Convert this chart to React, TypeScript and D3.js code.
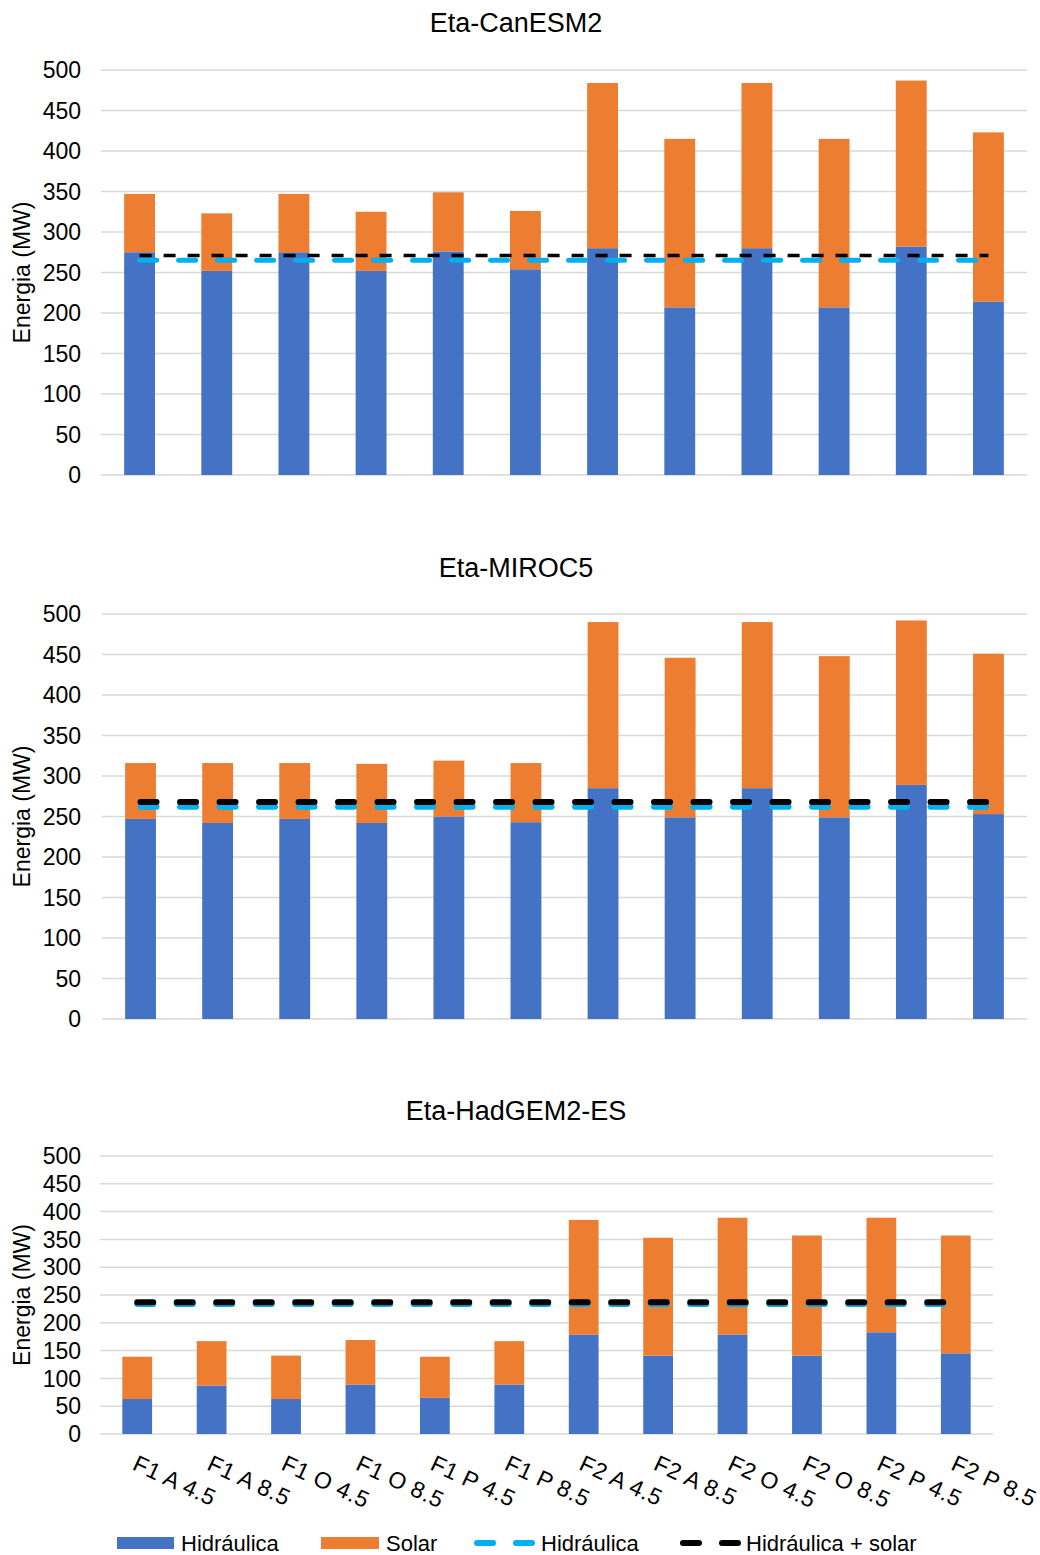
import React from "react";
import * as d3 from "d3";

const categories = [
  "F1 A 4.5", "F1 A 8.5", "F1 O 4.5", "F1 O 8.5", "F1 P 4.5", "F1 P 8.5",
  "F2 A 4.5", "F2 A 8.5", "F2 O 4.5", "F2 O 8.5", "F2 P 4.5", "F2 P 8.5",
];
const yTicks = [0, 50, 100, 150, 200, 250, 300, 350, 400, 450, 500];

// Eta-CanESM2
const canHidraulica = [275, 252, 275, 252, 276, 254, 280, 207, 280, 207, 282, 214];
const canSolar = [72, 71, 72, 73, 73, 72, 204, 208, 204, 208, 205, 209];
const canRefHidraulica = 265;
const canRefTotal = 271;

// Eta-MIROC5
const mirHidraulica = [247, 242, 247, 242, 250, 243, 285, 249, 285, 249, 289, 253];
const mirSolar = [69, 74, 69, 73, 69, 73, 205, 197, 205, 199, 203, 198];
const mirRefHidraulica = 262;
const mirRefTotal = 268;

// Eta-HadGEM2-ES
const hadHidraulica = [63, 87, 63, 89, 65, 89, 179, 141, 179, 141, 183, 145];
const hadSolar = [76, 80, 78, 80, 74, 78, 206, 212, 210, 216, 206, 212];
const hadRefHidraulica = 234;
const hadRefTotal = 237;

const titles = ["Eta-CanESM2", "Eta-MIROC5", "Eta-HadGEM2-ES"];
const yLabel = "Energia (MW)";
const legendLabels = ["Hidráulica", "Solar", "Hidráulica", "Hidráulica + solar"];

const BLUE = "#4472C4";
const ORANGE = "#ED7D31";
const CYAN = "#00B0F0";
const FONT = "'Liberation Sans', Arial, Helvetica, sans-serif";

type PanelProps = {
  title: string;
  hid: number[];
  sol: number[];
  refH: number;
  refT: number;
  x0: number;
  x1: number;
  yTop: number;
  yBot: number;
  titleY: number;
  thinBlack: boolean;
  showX: boolean;
};

function Panel(p: PanelProps) {
  const x = d3.scaleBand<string>().domain(categories).range([p.x0, p.x1]).paddingInner(0.6).paddingOuter(0.3);
  const y = d3.scaleLinear().domain([0, 500]).range([p.yBot, p.yTop]);
  const rows = categories.map((c, i) => ({ cat: c, hid: p.hid[i], sol: p.sol[i] }));
  const stack = d3.stack<any>().keys(["hid", "sol"])(rows);
  const colors = [BLUE, ORANGE];
  const cx = (c: string) => (x(c) ?? 0) + x.bandwidth() / 2;
  const line = d3.line<number>().x((d) => d).y(() => 0);
  const lx0 = cx(categories[0]);
  const lx1 = cx(categories[categories.length - 1]);
  const yMid = (p.yTop + p.yBot) / 2;
  return (
    <g>
      <text x={516} y={p.titleY} textAnchor="middle" fontSize={27} fill="#000" fontFamily={FONT}>
        {p.title}
      </text>
      {yTicks.map((t) => (
        <g key={t}>
          <line x1={p.x0} x2={p.x1} y1={y(t)} y2={y(t)} stroke="#d9d9d9" strokeWidth={1.5} />
          <text x={81} y={y(t)} dy="0.36em" textAnchor="end" fontSize={23} fill="#000" fontFamily={FONT}>
            {t}
          </text>
        </g>
      ))}
      <text
        transform={`translate(30,${yMid}) rotate(-90)`}
        textAnchor="middle"
        fontSize={23}
        fill="#000"
        fontFamily={FONT}
      >
        {yLabel}
      </text>
      {stack.map((s, si) =>
        s.map((d, i) => (
          <rect
            key={`${si}-${i}`}
            x={x(categories[i])}
            width={x.bandwidth()}
            y={y(d[1])}
            height={y(d[0]) - y(d[1])}
            fill={colors[si]}
          />
        ))
      )}
      <path
        d={line([lx0, lx1]) ?? ""}
        transform={`translate(0,${y(p.refH)})`}
        stroke={CYAN}
        strokeWidth={p.thinBlack ? 5 : 6}
        strokeDasharray={p.thinBlack ? "17,22" : "16,23.5"}
        strokeLinecap="round"
        fill="none"
      />
      <path
        d={line([lx0, lx1]) ?? ""}
        transform={`translate(0,${y(p.refT)})`}
        stroke="#000"
        strokeWidth={p.thinBlack ? 3.5 : 6}
        strokeDasharray={p.thinBlack ? "12,12" : "16,23.5"}
        strokeLinecap={p.thinBlack ? "butt" : "round"}
        fill="none"
      />
      {p.showX &&
        categories.map((c) => (
          <text
            key={c}
            transform={`translate(${cx(c) - 6},${p.yBot + 35}) rotate(25)`}
            fontSize={23}
            letterSpacing={0.5}
            fill="#000"
            fontFamily={FONT}
          >
            {c}
          </text>
        ))}
    </g>
  );
}

export default function App() {
  const ly = 1543;
  return (
    <svg
      width={1040}
      height={1555}
      style={{ position: "absolute", left: 0, top: 0, background: "#fff" }}
    >
      <rect width={1040} height={1555} fill="#fff" />
      <Panel title={titles[0]} hid={canHidraulica} sol={canSolar} refH={canRefHidraulica} refT={canRefTotal}
        x0={101} x1={1027} yTop={70} yBot={475} titleY={32} thinBlack={true} showX={false} />
      <Panel title={titles[1]} hid={mirHidraulica} sol={mirSolar} refH={mirRefHidraulica} refT={mirRefTotal}
        x0={102} x1={1027} yTop={614} yBot={1019} titleY={577} thinBlack={false} showX={false} />
      <Panel title={titles[2]} hid={hadHidraulica} sol={hadSolar} refH={hadRefHidraulica} refT={hadRefTotal}
        x0={100} x1={993} yTop={1156} yBot={1434} titleY={1120} thinBlack={false} showX={true} />
      {/* legend */}
      <rect x={117} y={ly - 6} width={57} height={12} fill={BLUE} />
      <text x={181} y={ly} dy="0.36em" fontSize={22} fontFamily={FONT} fill="#000">{legendLabels[0]}</text>
      <rect x={321} y={ly - 6} width={58} height={12} fill={ORANGE} />
      <text x={386} y={ly} dy="0.36em" fontSize={22} fontFamily={FONT} fill="#000">{legendLabels[1]}</text>
      <line x1={477} x2={535} y1={ly} y2={ly} stroke={CYAN} strokeWidth={6} strokeLinecap="round" strokeDasharray="16,23" />
      <text x={541} y={ly} dy="0.36em" fontSize={22} fontFamily={FONT} fill="#000">{legendLabels[2]}</text>
      <line x1={683} x2={741} y1={ly} y2={ly} stroke="#000" strokeWidth={6} strokeLinecap="round" strokeDasharray="16,23" />
      <text x={746} y={ly} dy="0.36em" fontSize={22} fontFamily={FONT} fill="#000">{legendLabels[3]}</text>
    </svg>
  );
}
